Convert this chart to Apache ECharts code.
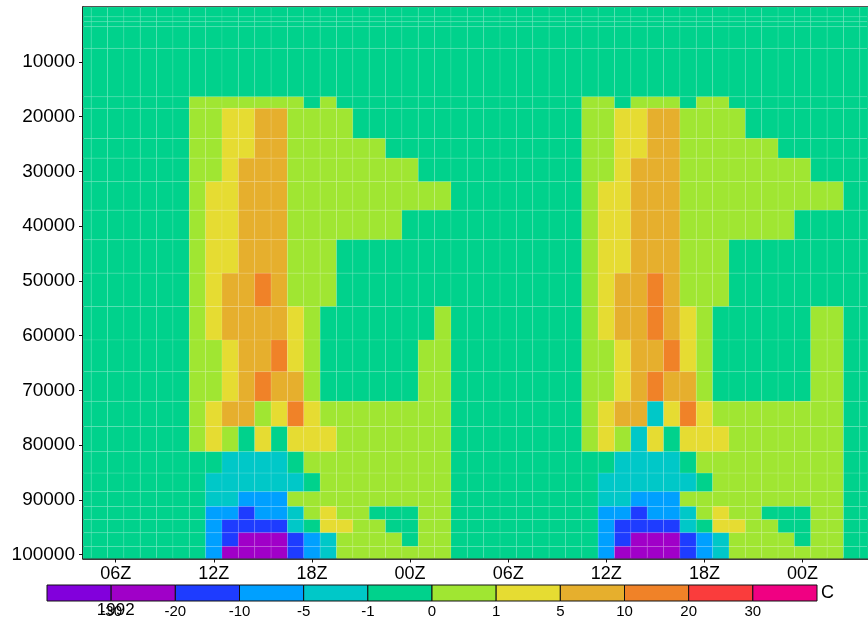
<!DOCTYPE html>
<html><head><meta charset="utf-8">
<script src="https://cdn.jsdelivr.net/npm/echarts@6/dist/echarts.min.js"></script>
<style>html,body{margin:0;padding:0;background:#fff}#c{width:868px;height:619px}</style>
</head><body><div id="c"></div>
<script>
// time axis (hours since 00Z of day 1), cells centred on each hour
const hours = [4,5,6,7,8,9,10,11,12,13,14,15,16,17,18,19,20,21,22,23,24,25,26,27,28,29,30,31,32,33,34,35,36,37,38,39,40,41,42,43,44,45,46,47,48,49,50,51,52];
const tickHours = [6,12,18,24,30,36,42,48];
const tickNames = ['06Z','12Z','18Z','00Z','06Z','12Z','18Z','00Z'];
const yearLabel = '1992';
const yTicks = [10000,20000,30000,40000,50000,60000,70000,80000,90000,100000];
// pressure (Pa) edges of each model layer, top to bottom
const levelEdges = [0,1800,2700,3600,7550,16400,18500,24000,27600,31900,37100,42500,48600,54700,60800,66600,72000,76600,81200,85100,88500,91200,93600,96000,98500,100700];
// contour levels and colours of the shading
const levelNames = ['-30','-20','-10','-5','-1','0','1','5','10','20','30'];
const levelValues = [-30,-20,-10,-5,-1,0,1,5,10,20,30];
const shadeColors = ['#8200dc','#a000c8','#1e3cff','#00a0ff','#00c8c8','#00d28c','#a0e632','#e6dc32','#e6af2d','#f08228','#fa3c3c','#f00082'];
const unitLabel = 'C';

// values per layer (top -> bottom), one per hour
const layer01 = [-.5,-.5,-.5,-.5,-.5,-.5,-.5,-.5,-.5,-.5,-.5,-.5,-.5,-.5,-.5,-.5,-.5,-.5,-.5,-.5,-.5,-.5,-.5,-.5,-.5,-.5,-.5,-.5,-.5,-.5,-.5,-.5,-.5,-.5,-.5,-.5,-.5,-.5,-.5,-.5,-.5,-.5,-.5,-.5,-.5,-.5,-.5,-.5,-.5];
const layer02 = [-.5,-.5,-.5,-.5,-.5,-.5,-.5,-.5,-.5,-.5,-.5,-.5,-.5,-.5,-.5,-.5,-.5,-.5,-.5,-.5,-.5,-.5,-.5,-.5,-.5,-.5,-.5,-.5,-.5,-.5,-.5,-.5,-.5,-.5,-.5,-.5,-.5,-.5,-.5,-.5,-.5,-.5,-.5,-.5,-.5,-.5,-.5,-.5,-.5];
const layer03 = [-.5,-.5,-.5,-.5,-.5,-.5,-.5,-.5,-.5,-.5,-.5,-.5,-.5,-.5,-.5,-.5,-.5,-.5,-.5,-.5,-.5,-.5,-.5,-.5,-.5,-.5,-.5,-.5,-.5,-.5,-.5,-.5,-.5,-.5,-.5,-.5,-.5,-.5,-.5,-.5,-.5,-.5,-.5,-.5,-.5,-.5,-.5,-.5,-.5];
const layer04 = [-.5,-.5,-.5,-.5,-.5,-.5,-.5,-.5,-.5,-.5,-.5,-.5,-.5,-.5,-.5,-.5,-.5,-.5,-.5,-.5,-.5,-.5,-.5,-.5,-.5,-.5,-.5,-.5,-.5,-.5,-.5,-.5,-.5,-.5,-.5,-.5,-.5,-.5,-.5,-.5,-.5,-.5,-.5,-.5,-.5,-.5,-.5,-.5,-.5];
const layer05 = [-.5,-.5,-.5,-.5,-.5,-.5,-.5,-.5,-.5,-.5,-.5,-.5,-.5,-.5,-.5,-.5,-.5,-.5,-.5,-.5,-.5,-.5,-.5,-.5,-.5,-.5,-.5,-.5,-.5,-.5,-.5,-.5,-.5,-.5,-.5,-.5,-.5,-.5,-.5,-.5,-.5,-.5,-.5,-.5,-.5,-.5,-.5,-.5,-.5];
const layer06 = [-.5,-.5,-.5,-.5,-.5,-.5,-.5, .5,.5,.5,.5,.5,.5,.5,-.5,.5,-.5,-.5,-.5,-.5,-.5,-.5,-.5,-.5, -.5,-.5,-.5,-.5,-.5,-.5,-.5, .5,.5,-.5,.5,.5,.5,-.5,.5,.5,-.5,-.5,-.5,-.5,-.5,-.5,-.5,-.5, -.5];
const layer07 = [-.5,-.5,-.5,-.5,-.5,-.5,-.5, .5,.5,3,3,7,7,.5,.5,.5,.5,-.5,-.5,-.5,-.5,-.5,-.5,-.5, -.5,-.5,-.5,-.5,-.5,-.5,-.5, .5,.5,3,3,7,7,.5,.5,.5,.5,-.5,-.5,-.5,-.5,-.5,-.5,-.5, -.5];
const layer08 = [-.5,-.5,-.5,-.5,-.5,-.5,-.5, .5,.5,3,3,7,7,.5,.5,.5,.5,.5,.5,-.5,-.5,-.5,-.5,-.5, -.5,-.5,-.5,-.5,-.5,-.5,-.5, .5,.5,3,3,7,7,.5,.5,.5,.5,.5,.5,-.5,-.5,-.5,-.5,-.5, -.5];
const layer09 = [-.5,-.5,-.5,-.5,-.5,-.5,-.5, .5,.5,3,7,7,7,.5,.5,.5,.5,.5,.5,.5,.5,-.5,-.5,-.5, -.5,-.5,-.5,-.5,-.5,-.5,-.5, .5,.5,3,7,7,7,.5,.5,.5,.5,.5,.5,.5,.5,-.5,-.5,-.5, -.5];
const layer10 = [-.5,-.5,-.5,-.5,-.5,-.5,-.5, .5,3,3,7,7,7,.5,.5,.5,.5,.5,.5,.5,.5,.5,.5,-.5, -.5,-.5,-.5,-.5,-.5,-.5,-.5, .5,3,3,7,7,7,.5,.5,.5,.5,.5,.5,.5,.5,.5,.5,-.5, -.5];
const layer11 = [-.5,-.5,-.5,-.5,-.5,-.5,-.5, .5,3,3,7,7,7,.5,.5,.5,.5,.5,.5,.5,-.5,-.5,-.5,-.5, -.5,-.5,-.5,-.5,-.5,-.5,-.5, .5,3,3,7,7,7,.5,.5,.5,.5,.5,.5,.5,-.5,-.5,-.5,-.5, -.5];
const layer12 = [-.5,-.5,-.5,-.5,-.5,-.5,-.5, .5,3,3,7,7,7,.5,.5,.5,-.5,-.5,-.5,-.5,-.5,-.5,-.5,-.5, -.5,-.5,-.5,-.5,-.5,-.5,-.5, .5,3,3,7,7,7,.5,.5,.5,-.5,-.5,-.5,-.5,-.5,-.5,-.5,-.5, -.5];
const layer13 = [-.5,-.5,-.5,-.5,-.5,-.5,-.5, .5,3,7,7,14,7,.5,.5,.5,-.5,-.5,-.5,-.5,-.5,-.5,-.5,-.5, -.5,-.5,-.5,-.5,-.5,-.5,-.5, .5,3,7,7,14,7,.5,.5,.5,-.5,-.5,-.5,-.5,-.5,-.5,-.5,-.5, -.5];
const layer14 = [-.5,-.5,-.5,-.5,-.5,-.5,-.5, .5,3,7,7,7,7,3,.5,-.5,-.5,-.5,-.5,-.5,-.5,-.5,.5,-.5, -.5,-.5,-.5,-.5,-.5,-.5,-.5, .5,3,7,7,14,7,3,.5,-.5,-.5,-.5,-.5,-.5,-.5,.5,.5,-.5, -.5];
const layer15 = [-.5,-.5,-.5,-.5,-.5,-.5,-.5, .5,.5,3,7,7,14,3,.5,-.5,-.5,-.5,-.5,-.5,-.5,.5,.5,-.5, -.5,-.5,-.5,-.5,-.5,-.5,-.5, .5,.5,3,7,7,14,3,.5,-.5,-.5,-.5,-.5,-.5,-.5,.5,.5,-.5, -.5];
const layer16 = [-.5,-.5,-.5,-.5,-.5,-.5,-.5, .5,.5,3,7,14,7,7,.5,-.5,-.5,-.5,-.5,-.5,-.5,.5,.5,-.5, -.5,-.5,-.5,-.5,-.5,-.5,-.5, .5,.5,3,7,14,7,7,.5,-.5,-.5,-.5,-.5,-.5,-.5,.5,.5,-.5, -.5];
const layer17 = [-.5,-.5,-.5,-.5,-.5,-.5,-.5, .5,3,7,7,.5,3,14,3,.5,.5,.5,.5,.5,.5,.5,.5,-.5, -.5,-.5,-.5,-.5,-.5,-.5,-.5, .5,3,7,7,-3,3,14,3,.5,.5,.5,.5,.5,.5,.5,.5,-.5, -.5];
const layer18 = [-.5,-.5,-.5,-.5,-.5,-.5,-.5, .5,3,.5,-.5,3,-.5,3,3,3,.5,.5,.5,.5,.5,.5,.5,-.5, -.5,-.5,-.5,-.5,-.5,-.5,-.5, .5,3,.5,-3,3,-.5,3,3,3,.5,.5,.5,.5,.5,.5,.5,-.5, -.5];
const layer19 = [-.5,-.5,-.5,-.5,-.5,-.5,-.5, -.5,-.5,-3,-3,-3,-3,-.5,.5,.5,.5,.5,.5,.5,.5,.5,.5,-.5, -.5,-.5,-.5,-.5,-.5,-.5,-.5, -.5,-.5,-3,-3,-3,-3,-.5,.5,.5,.5,.5,.5,.5,.5,.5,.5,-.5, -.5];
const layer20 = [-.5,-.5,-.5,-.5,-.5,-.5,-.5, -.5,-3,-3,-3,-3,-3,-3,-.5,.5,.5,.5,.5,.5,.5,.5,.5,-.5, -.5,-.5,-.5,-.5,-.5,-.5,-.5, -.5,-3,-3,-3,-3,-3,-3,-.5,.5,.5,.5,.5,.5,.5,.5,.5,-.5, -.5];
const layer21 = [-.5,-.5,-.5,-.5,-.5,-.5,-.5, -.5,-3,-3,-7,-7,-7,.5,.5,.5,.5,.5,.5,.5,.5,.5,.5,-.5, -.5,-.5,-.5,-.5,-.5,-.5,-.5, -.5,-3,-3,-7,-7,-7,.5,.5,.5,.5,.5,.5,.5,.5,.5,.5,-.5, -.5];
const layer22 = [-.5,-.5,-.5,-.5,-.5,-.5,-.5, -.5,-7,-7,-14,-7,-7,-3,.5,3,.5,.5,-.5,-.5,-.5,.5,.5,-.5, -.5,-.5,-.5,-.5,-.5,-.5,-.5, -.5,-7,-7,-14,-7,-7,-3,.5,3,.5,.5,-.5,-.5,-.5,.5,.5,-.5, -.5];
const layer23 = [-.5,-.5,-.5,-.5,-.5,-.5,-.5, -.5,-7,-14,-14,-14,-14,-3,-.5,3,3,.5,.5,-.5,-.5,.5,.5,-.5, -.5,-.5,-.5,-.5,-.5,-.5,-.5, -.5,-7,-14,-14,-14,-14,-3,-.5,3,3,.5,.5,-.5,-.5,.5,.5,-.5, -.5];
const layer24 = [-.5,-.5,-.5,-.5,-.5,-.5,-.5, -.5,-7,-14,-25,-25,-25,-14,-7,-3,.5,.5,.5,.5,-.5,.5,.5,-.5, -.5,-.5,-.5,-.5,-.5,-.5,-.5, -.5,-7,-14,-25,-25,-25,-14,-7,-3,.5,.5,.5,.5,-.5,.5,.5,-.5, -.5];
const layer25 = [-.5,-.5,-.5,-.5,-.5,-.5,-.5, -.5,-7,-25,-25,-25,-25,-14,-7,-3,.5,.5,.5,.5,.5,.5,.5,-.5, -.5,-.5,-.5,-.5,-.5,-.5,-.5, -.5,-7,-25,-25,-25,-25,-14,-7,-3,.5,.5,.5,.5,.5,.5,.5,-.5, -.5];
const layers = [layer01,layer02,layer03,layer04,layer05,layer06,layer07,layer08,layer09,layer10,layer11,layer12,layer13,layer14,layer15,layer16,layer17,layer18,layer19,layer20,layer21,layer22,layer23,layer24,layer25];

function colorOf(v){ let i=0; while(i<levelValues.length && v>=levelValues[i]) i++; return shadeColors[i]; }

const cells = [];
layers.forEach((row, r) => row.forEach((v, j) => cells.push([hours[j], r, v, (levelEdges[r]+levelEdges[r+1])/2])));
const bins = shadeColors.map((c, i) => [i, 0.5]);

const FONT = '"Liberation Sans","Arial",sans-serif';
const chart = echarts.init(document.getElementById('c'), null, {renderer:'canvas'});
chart.setOption({
  animation: false,
  backgroundColor: '#fff',
  grid: [
    {left: 83, top: 7, width: 787, height: 552, show: true, borderColor: '#111', borderWidth: 1.5, backgroundColor: 'transparent'},
    {left: 47, top: 585, width: 770, height: 17}
  ],
  xAxis: [
    {type:'value', gridIndex:0, min:4, max:52, splitLine:{show:false},
     axisLine:{show:true, onZero:false, lineStyle:{color:'#111', width:1.5}},
     axisTick:{show:true, customValues: tickHours, length:4, lineStyle:{color:'#111'}},
     axisLabel:{customValues: tickHours, margin:6, fontFamily: FONT, fontSize:18, color:'#000',
       formatter: v => { const i = tickHours.indexOf(v); const t = tickNames[i]; return i===0 ? '{t|'+t+'}\n{y|'+yearLabel+'}' : '{t|'+t+'}'; },
       rich:{t:{fontFamily:FONT,fontSize:18,lineHeight:20,color:'#000'}, y:{fontFamily:FONT,fontSize:17,lineHeight:52,color:'#000'}}}},
    {type:'value', gridIndex:1, min:0, max:12, splitLine:{show:false}, axisLine:{show:false}, axisTick:{show:false},
     axisLabel:{customValues:[1,2,3,4,5,6,7,8,9,10,11], margin:3, fontFamily: FONT, fontSize:15, color:'#000',
       formatter: v => levelNames[v-1]}}
  ],
  yAxis: [
    {type:'value', gridIndex:0, inverse:true, min:0, max:100700, splitLine:{show:false},
     axisLine:{show:true, onZero:false, lineStyle:{color:'#111', width:1.5}},
     axisTick:{show:true, customValues: yTicks, length:4, lineStyle:{color:'#111'}},
     axisLabel:{customValues: yTicks, margin:8, fontFamily: FONT, fontSize:19, color:'#000', formatter: v => String(v)}},
    {type:'value', gridIndex:1, min:0, max:1, show:false}
  ],
  graphic: [
    {type:'text', left: 821, top: 584, style:{text: unitLabel, font: '18px '+FONT, fill:'#000'}}
  ],
  series: [
    {type:'custom', xAxisIndex:0, yAxisIndex:0, data: cells, encode:{x:0, y:3},
     renderItem: (params, api) => {
       const h = api.value(0), r = api.value(1), v = api.value(2);
       const a = api.coord([h-0.5, levelEdges[r]]);
       const b = api.coord([h+0.5, levelEdges[r+1]]);
       const cs = params.coordSys;
       const shape = echarts.graphic.clipRectByRect({x:a[0], y:a[1], width:b[0]-a[0], height:b[1]-a[1]}, {x:cs.x, y:cs.y, width:cs.width, height:cs.height});
       if (!shape) return;
       return {type:'rect', shape, style:{fill: colorOf(v), stroke:'rgba(255,255,255,0.16)', lineWidth:0.6}};
     }},
    {type:'custom', xAxisIndex:1, yAxisIndex:1, data: bins, encode:{x:0, y:1},
     renderItem: (params, api) => {
       const i = api.value(0);
       const a = api.coord([i, 1]);
       const b = api.coord([i+1, 0]);
       return {type:'rect', shape:{x:a[0], y:a[1], width:b[0]-a[0], height:b[1]-a[1]}, style:{fill: shadeColors[i], stroke:'#111', lineWidth:1}};
     }}
  ]
});
</script></body></html>
